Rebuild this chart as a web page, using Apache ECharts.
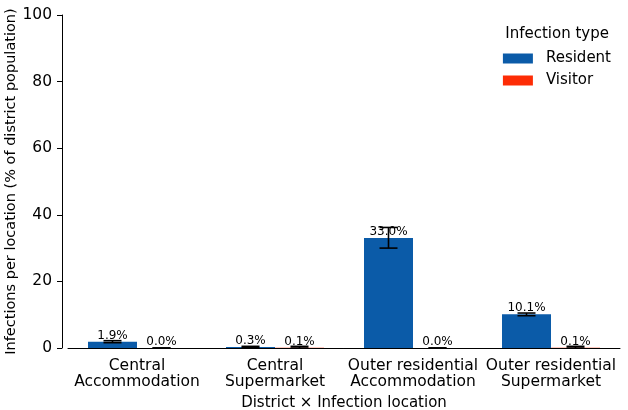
<!DOCTYPE html>
<html lang="en">
<head>
    <meta charset="utf-8">
    <title>Infections per location</title>
    <script src="https://cdn.jsdelivr.net/npm/echarts@6/dist/echarts.min.js"></script>
    <style>
        html, body { margin: 0; padding: 0; background: #fff; }
        #chart { width: 628px; height: 410px; }
    </style>
</head>
<body>
    <div id="chart"></div>
    <script>
        // data
        var categories = ['Central\nAccommodation', 'Central\nSupermarket', 'Outer residential\nAccommodation', 'Outer residential\nSupermarket'];
        var residentValues = [1.9, 0.3, 33.0, 10.1];
        var visitorValues = [0.0, 0.1, 0.0, 0.1];
        var residentLow = [1.6, 0.1, 30.0, 9.7];
        var residentHigh = [2.2, 0.5, 36.2, 10.5];
        var visitorLow = [0.0, 0.0, 0.0, 0.0];
        var visitorHigh = [0.0, 0.5, 0.0, 0.5];
        var yTicks = [0, 20, 40, 60, 80, 100];

        var barW = 49;
        var font = 'DejaVu Sans';

        function errData(low, high, side) {
            return low.map(function (l, i) { return [i, l, high[i], side]; });
        }

        function renderErr(params, api) {
            var i = api.value(0);
            var side = api.value(3);
            var lo = api.coord([i, api.value(1)]);
            var hi = api.coord([i, api.value(2)]);
            var x = lo[0] + side * barW / 2;
            var cap = 9;
            var st = { stroke: '#000', lineWidth: 1.6 };
            return {
                type: 'group',
                children: [
                    { type: 'line', shape: { x1: x, y1: lo[1], x2: x, y2: hi[1] }, style: st },
                    { type: 'line', shape: { x1: x - cap, y1: lo[1], x2: x + cap, y2: lo[1] }, style: st },
                    { type: 'line', shape: { x1: x - cap, y1: hi[1], x2: x + cap, y2: hi[1] }, style: st }
                ]
            };
        }

        var barLabel = {
            show: true,
            position: 'top',
            distance: 0,
            fontFamily: font,
            fontSize: 12,
            color: '#000',
            formatter: function (p) { return p.value.toFixed(1) + '%'; }
        };

        var myChart = echarts.init(document.getElementById('chart'));
        myChart.setOption({
            animation: false,
            textStyle: { fontFamily: font },
            grid: { left: 68, right: 8, top: 15, bottom: 62, outerBoundsMode: 'none', containLabel: false },
            legend: {
                right: 17,
                top: 51,
                padding: 0,
                orient: 'vertical',
                icon: 'rect',
                itemWidth: 30,
                itemHeight: 10,
                itemGap: 7,
                textStyle: { fontFamily: font, fontSize: 15, color: '#000', lineHeight: 15, padding: [0, 0, 0, 8] },
                data: ['Resident', 'Visitor']
            },
            graphic: [{
                type: 'text',
                right: 19,
                top: 27,
                style: { text: 'Infection type', fontFamily: font, fontSize: 15, fill: '#000' }
            }],
            xAxis: {
                type: 'category',
                data: categories,
                name: 'District × Infection location',
                nameLocation: 'middle',
                nameGap: 48,
                nameMoveOverlap: false,
                nameTextStyle: { fontFamily: font, fontSize: 15, color: '#000' },
                axisLine: { lineStyle: { color: '#000', width: 1 } },
                axisTick: { alignWithLabel: true, length: 5, lineStyle: { color: '#000' } },
                axisLabel: { fontFamily: font, fontSize: 15.5, color: '#000', lineHeight: 16, margin: 10, interval: 0 }
            },
            yAxis: {
                type: 'value',
                min: yTicks[0],
                max: yTicks[yTicks.length - 1],
                interval: 20,
                offset: 6,
                name: 'Infections per location (% of district population)',
                nameLocation: 'middle',
                nameGap: 43,
                nameMoveOverlap: false,
                nameTextStyle: { fontFamily: font, fontSize: 14.5, color: '#000' },
                splitLine: { show: false },
                axisLine: { show: true, lineStyle: { color: '#000', width: 1 } },
                axisTick: { show: true, length: 5, lineStyle: { color: '#000' } },
                axisLabel: { fontFamily: font, fontSize: 15.5, color: '#000', margin: 10 }
            },
            series: [
                {
                    name: 'Resident',
                    type: 'bar',
                    data: residentValues,
                    barWidth: barW,
                    barGap: '0%',
                    itemStyle: { color: '#0b5ba8' },
                    label: barLabel
                },
                {
                    name: 'Visitor',
                    type: 'bar',
                    data: visitorValues,
                    barWidth: barW,
                    itemStyle: { color: '#fd2c05' },
                    label: barLabel
                },
                {
                    type: 'custom',
                    renderItem: renderErr,
                    data: errData(residentLow, residentHigh, -1),
                    encode: { x: 0, y: [1, 2] },
                    z: 10
                },
                {
                    type: 'custom',
                    renderItem: renderErr,
                    data: errData(visitorLow, visitorHigh, 1),
                    encode: { x: 0, y: [1, 2] },
                    z: 10
                }
            ]
        });
    </script>
</body>
</html>
